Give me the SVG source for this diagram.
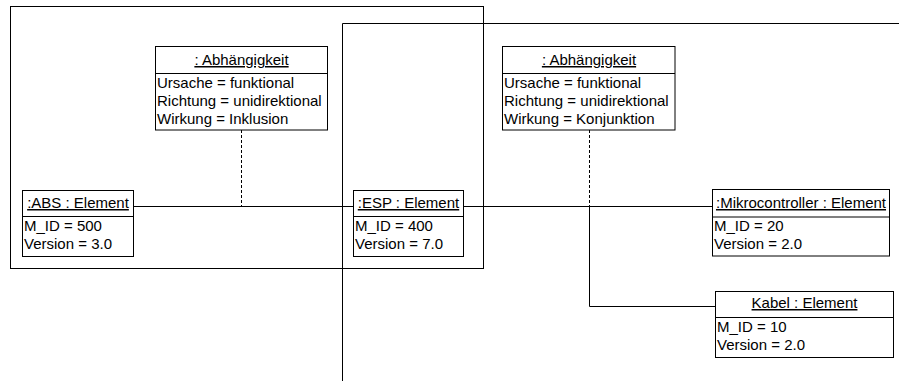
<svg xmlns="http://www.w3.org/2000/svg" width="899" height="381" viewBox="0 0 899 381">
<style>
text{font-family:"Liberation Sans",Arial,sans-serif;font-size:15px;fill:#000}
.h{text-anchor:middle;text-decoration:underline}
.box{fill:#fff;stroke:#000;stroke-width:1}
.ln{fill:none;stroke:#000;stroke-width:1}
.dash{fill:none;stroke:#000;stroke-width:1;stroke-dasharray:3 2}
</style>
<rect width="899" height="381" fill="#fff"/>
<g id="frames">
<rect class="ln" x="10.5" y="6.5" width="473" height="262"/>
<path class="ln" d="M342.5 381V23.5H899"/>
</g>
<g id="connectors">
<path class="ln" d="M133 206.5H353"/>
<path class="ln" d="M463 206.5H712"/>
<path class="dash" d="M241.5 130V206"/>
<path class="dash" d="M589.5 130V206"/>
<path class="ln" d="M589.5 206V306.5H716"/>
</g>
<g id="dep1">
<rect class="box" x="155.5" y="46.5" width="172" height="83.5"/>
<path class="ln" d="M155.5 73.5H327.5"/>
<text class="h" x="241.5" y="65">: Abhängigkeit</text>
<text x="157" y="88">Ursache = funktional</text>
<text x="157" y="106">Richtung = unidirektional</text>
<text x="157" y="124">Wirkung = Inklusion</text>
</g>
<g id="dep2">
<rect class="box" x="502.5" y="46.5" width="172.5" height="83.5"/>
<path class="ln" d="M502.5 73.5H675"/>
<text class="h" x="589" y="65">: Abhängigkeit</text>
<text x="504" y="88">Ursache = funktional</text>
<text x="504" y="106">Richtung = unidirektional</text>
<text x="504" y="124">Wirkung = Konjunktion</text>
</g>
<g id="abs">
<rect class="box" x="22.5" y="190.5" width="111" height="66"/>
<path class="ln" d="M22.5 216.5H133.5"/>
<text class="h" x="78" y="208">:ABS : Element</text>
<text x="24" y="231">M_ID = 500</text>
<text x="24" y="249">Version = 3.0</text>
</g>
<g id="esp">
<rect class="box" x="353.5" y="190.5" width="110" height="66"/>
<path class="ln" d="M353.5 216.5H463.5"/>
<text class="h" x="408.5" y="208">:ESP : Element</text>
<text x="355" y="231">M_ID = 400</text>
<text x="355" y="249">Version = 7.0</text>
</g>
<g id="mikro">
<rect class="box" x="712.5" y="189.5" width="177" height="66.5"/>
<path class="ln" d="M712.5 217H889.5"/>
<text class="h" x="801" y="208">:Mikrocontroller : Element</text>
<text x="714" y="231">M_ID = 20</text>
<text x="714" y="249">Version = 2.0</text>
</g>
<g id="kabel">
<rect class="box" x="715.5" y="291.5" width="178" height="66"/>
<path class="ln" d="M715.5 317.5H893.5"/>
<text class="h" x="804.5" y="308">Kabel : Element</text>
<text x="717" y="332">M_ID = 10</text>
<text x="717" y="350">Version = 2.0</text>
</g>
</svg>
